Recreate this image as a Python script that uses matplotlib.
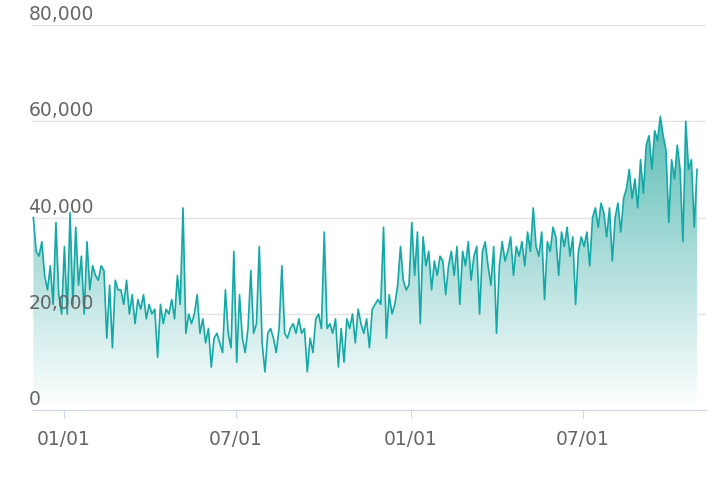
import numpy as np
import pandas as pd
import matplotlib
matplotlib.use("Agg")
import matplotlib.pyplot as plt
import matplotlib.dates as mdates
from matplotlib.colors import LinearSegmentedColormap

vals_k = [40,33,32,35,28,25,30,22,39,24,20,
 34,20,41,22,38,26,32,20,35,25,30,28,27,30,29,15,26,13,27,25,
 25,22,27,20,24,18,23,21,24,19,22,20,21,
 11,22,18,21,20,23,19,28,22,42,16,20,18,
 20,24,16,19,14,17,9,15,16,14,12,25,16,13,
 33,10,24,15,12,17,29,16,18,34,14,8,16,17,15,12,17,30,16,15,17,18,16,19,16,17,8,15,12,19,20,
 17,37,17,18,16,19,9,17,10,19,17,20,14,21,18,16,19,13,21,22,23,22,38,15,24,20,22,26,34,27,25,
 26,39,28,37,18,36,30,33,25,31,28,32,31,24,30,33,28,34,22,33,30,35,27,32,34,20,33,35,30,26,34,16,30,35,31,33,36,28,34,32,35,30,37,33,42,34,32,37,23,35,33,38,36,28,37,34,38,32,36,22,
 33,36,34,37,30,40,42,38,43,41,36,42,31,40,43,37,44,46,50,44,48,42,52,45,55,57,50,58,56,61,57,54,39,52,48,55,50,35,60,50,52,38,50]
values = np.array(vals_k) * 1000
dates = pd.date_range("2020-11-30", "2022-10-29", periods=len(values))
yticks = [0, 20000, 40000, 60000, 80000]
xticks = pd.to_datetime(["2021-01-01", "2021-07-01", "2022-01-01", "2022-07-01"])

fig = plt.figure(figsize=(7.2, 4.84), dpi=100)
ax = fig.add_axes([0.045, 0.152, 0.935, 0.797])
x = mdates.date2num(dates)
color = "#14a8a6"
poly = ax.fill_between(x, values, 0, color="none")
cmap = LinearSegmentedColormap.from_list("g", ["#ffffff", "#5dbdb7"])
grad = np.linspace(0, 1, 256).reshape(-1, 1)
im = ax.imshow(grad, aspect="auto", cmap=cmap, origin="lower",
               extent=[x[0], x[-1], 0, max(values)], zorder=1)
im.set_clip_path(poly.get_paths()[0], transform=ax.transData)
ax.plot(x, values, color=color, lw=1.2, zorder=3)

ax.set_ylim(0, 80000)
ax.set_xlim(mdates.date2num(pd.Timestamp("2020-11-30")) - 1, x[-1] + 9)
ax.set_yticks(yticks)
ax.set_yticklabels([])
ax.tick_params(axis="y", length=0)
for t in yticks:
    ax.axhline(t, color="#e3e3e3", lw=1, zorder=0)
    ax.text(-0.006, t + 200, f"{t:,}", transform=ax.get_yaxis_transform(),
            fontsize=13.5, color="#666666", ha="left", va="bottom")
ax.set_xticks(mdates.date2num(xticks))
ax.set_xticklabels([d.strftime("%m/%d") for d in xticks], fontsize=13.5, color="#666666")
ax.tick_params(axis="x", length=6, color="#ccd6eb", pad=8)
for s in ["top", "right", "left"]:
    ax.spines[s].set_visible(False)
ax.spines["bottom"].set_color("#ccd6eb")
ax.set_axisbelow(True)
fig.savefig("out.png", dpi=100)
